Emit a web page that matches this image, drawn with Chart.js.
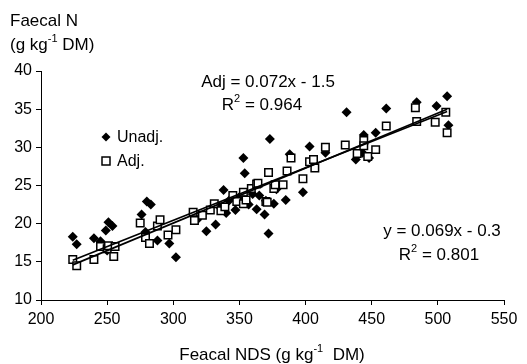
<!DOCTYPE html>
<html>
<head>
<meta charset="utf-8">
<script src="https://cdn.jsdelivr.net/npm/chart.js@4.4.1/dist/chart.umd.min.js"></script>
<style>
  html, body { margin: 0; padding: 0; background: #fff; }
  #wrap { width: 527px; height: 364px; position: relative; }
</style>
</head>
<body>
<div id="wrap"><canvas id="c"></canvas></div>
<script>
// Data
var unadjPoints = [
  [224,18.3],[227,17.3],[240,18.1],[245,17.7],[249,19.1],[251,20.2],[254,19.7],[250,16.5],
  [276,21.2],[280,22.9],[283,22.5],[279,18.9],[288,17.8],[297,17.4],[302,15.6],
  [318,20.5],[325,19.0],[332,19.9],[338,24.4],[340,21.4],[347,21.8],[342,23.0],[335,22.2],
  [353,28.6],[354,26.6],[350,23.5],[357,22.5],[360,23.9],[363,21.9],[365,23.7],[369,21.2],
  [370,23.0],[372,18.7],[373,31.1],[376,22.6],[378,24.5],
  [385,23.1],[388,29.1],[398,24.1],[403,30.1],[415,29.3],
  [431,34.6],[438,28.4],[443,29.3],[444,31.6],[448,28.6],[453,31.9],[461,35.1],
  [484,35.9],[499,35.4],[507,36.7],[508,32.9]
];
var adjPoints = [
  [224,15.3],[227,14.5],[240,15.3],[245,17.0],[250,16.7],[251,17.1],[255,15.7],[256,17.0],
  [275,20.1],[279,18.2],[282,17.4],[288,19.7],[290,20.5],[296,18.5],[302,19.2],
  [315,21.5],[316,20.4],[322,21.1],[328,21.8],[331,22.6],[336,21.7],[339,22.2],[345,23.7],
  [348,22.9],[353,24.1],[353,22.6],[355,23.1],[359,24.6],[363,25.2],[364,25.3],[370,22.9],
  [371,22.8],[372,26.7],[376,24.6],[377,25.1],[383,25.1],[386,26.9],[389,28.6],[398,25.9],
  [403,28.1],[406,28.4],[407,27.3],[415,30.0],[430,30.3],[439,29.2],[444,30.9],[444,30.2],
  [447,28.8],[453,29.7],[461,32.8],[483,35.2],[484,33.4],[498,33.3],[506,34.6],[507,31.9]
];
// trend line end points (as drawn)
var unadjTrend = [[224,15.2],[507,34.7]];
var adjTrend = [[224,14.6],[507,35.0]];

var xTicks = [200,250,300,350,400,450,500,550];
var yTicks = [10,15,20,25,30,35,40];

function toXY(arr) {
  return arr.map(function (p) { return {x: p[0], y: p[1]}; });
}

var FONT = '"Liberation Sans", Arial, sans-serif';

// draws text with superscript parts, parts = [[text, isSup], ...]
function drawParts(ctx, parts, x, y, size, align) {
  var supSize = Math.round(size * 0.62);
  var total = 0;
  parts.forEach(function (p) {
    ctx.font = (p[1] ? supSize : size) + 'px ' + FONT;
    total += ctx.measureText(p[0]).width;
  });
  var cx = align === 'center' ? x - total / 2 : (align === 'right' ? x - total : x);
  ctx.textAlign = 'left';
  ctx.textBaseline = 'middle';
  parts.forEach(function (p) {
    ctx.font = (p[1] ? supSize : size) + 'px ' + FONT;
    ctx.fillText(p[0], cx, p[1] ? y - size * 0.38 : y);
    cx += ctx.measureText(p[0]).width;
  });
}

var textPlugin = {
  id: 'texts',
  afterDraw: function (chart) {
    var ctx = chart.ctx;
    ctx.save();
    ctx.fillStyle = '#000';
    // y title
    drawParts(ctx, [['Faecal N', false]], 10, 21, 17, 'left');
    drawParts(ctx, [['(g kg', false], ['-1', true], [' DM)', false]], 10, 45, 17, 'left');
    // x title
    drawParts(ctx, [['Feacal NDS (g kg', false], ['-1', true], ['  DM)', false]], 272, 355, 17, 'center');
    // equations
    drawParts(ctx, [['Adj = 0.072x - 1.5', false]], 268, 82, 17, 'center');
    drawParts(ctx, [['R', false], ['2', true], [' = 0.964', false]], 262, 105, 17, 'center');
    drawParts(ctx, [['y = 0.069x - 0.3', false]], 442, 231, 17, 'center');
    drawParts(ctx, [['R', false], ['2', true], [' = 0.801', false]], 439, 255, 17, 'center');
    // legend
    var ly1 = 137, ly2 = 161;
    ctx.fillStyle = '#000';
    ctx.beginPath();
    ctx.moveTo(106, ly1 - 4.5); ctx.lineTo(110.5, ly1); ctx.lineTo(106, ly1 + 4.5); ctx.lineTo(101.5, ly1);
    ctx.closePath(); ctx.fill();
    ctx.strokeStyle = '#000'; ctx.lineWidth = 1.5;
    ctx.fillStyle = '#fff';
    ctx.fillRect(102, ly2 - 4, 8, 8); ctx.strokeRect(102, ly2 - 4, 8, 8);
    ctx.fillStyle = '#000';
    drawParts(ctx, [['Unadj.', false]], 117, ly1 + 1, 16, 'left');
    drawParts(ctx, [['Adj.', false]], 117, ly2 + 1, 16, 'left');
    ctx.restore();
  }
};

var config = {
  type: 'scatter',
  data: {
    datasets: [
      {
        label: 'Unadj. trend',
        type: 'line',
        data: toXY(unadjTrend),
        borderColor: '#000',
        borderWidth: 1.7,
        pointRadius: 0,
        fill: false,
        order: 0
      },
      {
        label: 'Adj. trend',
        type: 'line',
        data: toXY(adjTrend),
        borderColor: '#000',
        borderWidth: 1.7,
        pointRadius: 0,
        fill: false,
        order: 0
      },
      {
        label: 'Adj.',
        data: toXY(adjPoints),
        pointStyle: 'rect',
        pointRadius: 5.3,
        backgroundColor: '#fff',
        borderColor: '#000',
        borderWidth: 1.5,
        order: 1
      },
      {
        label: 'Unadj.',
        data: toXY(unadjPoints),
        pointStyle: 'rectRot',
        pointRadius: 5,
        backgroundColor: '#000',
        borderColor: '#000',
        borderWidth: 0,
        order: 2
      }
    ]
  },
  options: {
    responsive: false,
    animation: false,
    devicePixelRatio: 1,
    layout: { padding: { top: 71, right: 23, left: 0, bottom: 0 } },
    plugins: {
      legend: { display: false },
      tooltip: { enabled: false }
    },
    scales: {
      x: {
        type: 'linear',
        min: 200,
        max: 550,
        afterBuildTicks: function (s) { s.ticks = xTicks.map(function (v) { return {value: v}; }); },
        afterFit: function (s) { s.height = 64; },
        grid: { drawOnChartArea: false, drawTicks: true, tickLength: 5, color: '#000', lineWidth: 1 },
        border: { display: true, color: '#000', width: 1 },
        ticks: { color: '#000', font: { family: FONT, size: 16 }, padding: 5, maxRotation: 0 }
      },
      y: {
        type: 'linear',
        min: 10,
        max: 40,
        afterBuildTicks: function (s) { s.ticks = yTicks.map(function (v) { return {value: v}; }); },
        afterFit: function (s) { s.width = 41; },
        grid: { drawOnChartArea: false, drawTicks: true, tickLength: 5, color: '#000', lineWidth: 1 },
        border: { display: true, color: '#000', width: 1 },
        ticks: { color: '#000', font: { family: FONT, size: 16 }, padding: 4 }
      }
    }
  },
  plugins: [textPlugin]
};

var canvas = document.getElementById('c');
canvas.width = 527;
canvas.height = 364;
var myScatter = new Chart(canvas.getContext('2d'), config);
</script>
</body>
</html>
